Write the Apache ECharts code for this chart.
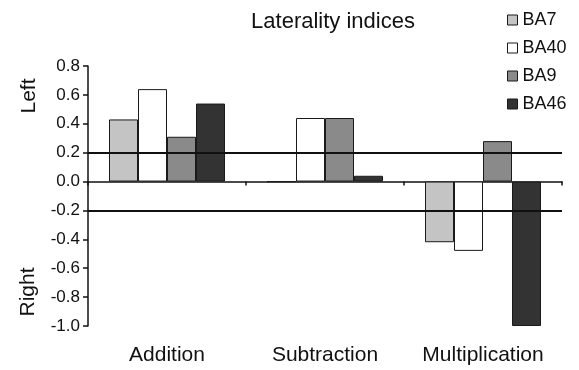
<!DOCTYPE html>
<html>
<head>
<meta charset="utf-8">
<script src="https://cdn.jsdelivr.net/npm/echarts@6/dist/echarts.min.js"></script>
<style>
  html, body { margin: 0; padding: 0; background: #fff; }
  #main { width: 579px; height: 370px; }
</style>
</head>
<body>
<div id="main"></div>
<script>
// data
var categories = ['Addition', 'Subtraction', 'Multiplication'];
var ba7  = [0.43, 0.0, -0.42];
var ba40 = [0.64, 0.44, -0.48];
var ba9  = [0.31, 0.44, 0.28];
var ba46 = [0.54, 0.04, -1.0];
var thresholds = [0.2, -0.2];

var font = '"Liberation Sans", Arial, Helvetica, sans-serif';

function barSeries(name, data, color) {
    return {
        name: name,
        type: 'bar',
        data: data,
        xAxisIndex: 0,
        barWidth: 29,
        barGap: '0%',
        itemStyle: {
            color: color,
            borderColor: '#1a1a1a',
            borderWidth: 1
        }
    };
}

var series = [
    barSeries('BA7', ba7, '#c4c4c4'),
    barSeries('BA40', ba40, '#ffffff'),
    barSeries('BA9', ba9, '#8a8a8a'),
    barSeries('BA46', ba46, '#333333')
];
// the two threshold lines
series[3].markLine = {
    silent: true,
    symbol: ['none', 'none'],
    label: { show: false },
    lineStyle: { color: '#111', width: 2, type: 'solid' },
    data: thresholds.map(function (v) { return { yAxis: v }; })
};

var myChart = echarts.init(document.getElementById('main'));

var option = {
    animation: false,
    backgroundColor: '#fff',
    textStyle: { fontFamily: font },
    title: {
        text: 'Laterality indices',
        left: 328,
        top: 6,
        textAlign: 'center',
        textStyle: { fontFamily: font, fontSize: 22, fontWeight: 'normal', color: '#111' }
    },
    legend: {
        orient: 'vertical',
        left: 507,
        top: 11,
        padding: 0,
        itemWidth: 10,
        itemHeight: 10,
        itemGap: 10,
        icon: 'rect',
        itemStyle: { borderColor: '#1a1a1a', borderWidth: 1 },
        textStyle: { fontFamily: font, fontSize: 18, color: '#111' },
        data: ['BA7', 'BA40', 'BA9', 'BA46']
    },
    grid: { left: 88, right: 17, top: 66, bottom: 44, outerBoundsMode: 'none', containLabel: false },
    xAxis: [{
        // axis drawn along zero
        type: 'category',
        data: categories,
        axisLine: { onZero: true, lineStyle: { color: '#111', width: 1.5 } },
        axisTick: { show: true, length: 4, lineStyle: { color: '#111', width: 1.5 } },
        axisLabel: { show: false },
        splitLine: { show: false }
    }, {
        // category names at the bottom
        type: 'category',
        data: categories,
        position: 'bottom',
        axisLine: { show: false, onZero: false },
        axisTick: { show: false },
        axisLabel: { margin: 19, fontFamily: font, fontSize: 21, color: '#111' },
        splitLine: { show: false }
    }],
    yAxis: {
        type: 'value',
        min: -1.0,
        max: 0.8,
        interval: 0.2,
        axisLine: { show: true, lineStyle: { color: '#111', width: 1.5 } },
        axisTick: { show: true, length: 5, lineStyle: { color: '#111', width: 1.5 } },
        axisLabel: {
            margin: 8,
            fontFamily: font,
            fontSize: 17,
            color: '#111',
            formatter: function (v) {
                if (Math.abs(v) < 1e-9) return '0.0';
                return v.toFixed(1);
            }
        },
        splitLine: { show: false }
    },
    graphic: [
        {
            type: 'text',
            x: 29, y: 96,
            rotation: Math.PI / 2,
            style: { text: 'Left', fontFamily: font, fontSize: 21, fill: '#111', align: 'center', verticalAlign: 'middle' }
        },
        {
            type: 'text',
            x: 28, y: 292,
            rotation: Math.PI / 2,
            style: { text: 'Right', fontFamily: font, fontSize: 21, fill: '#111', align: 'center', verticalAlign: 'middle' }
        }
    ],
    series: series
};

myChart.setOption(option);
</script>
</body>
</html>
